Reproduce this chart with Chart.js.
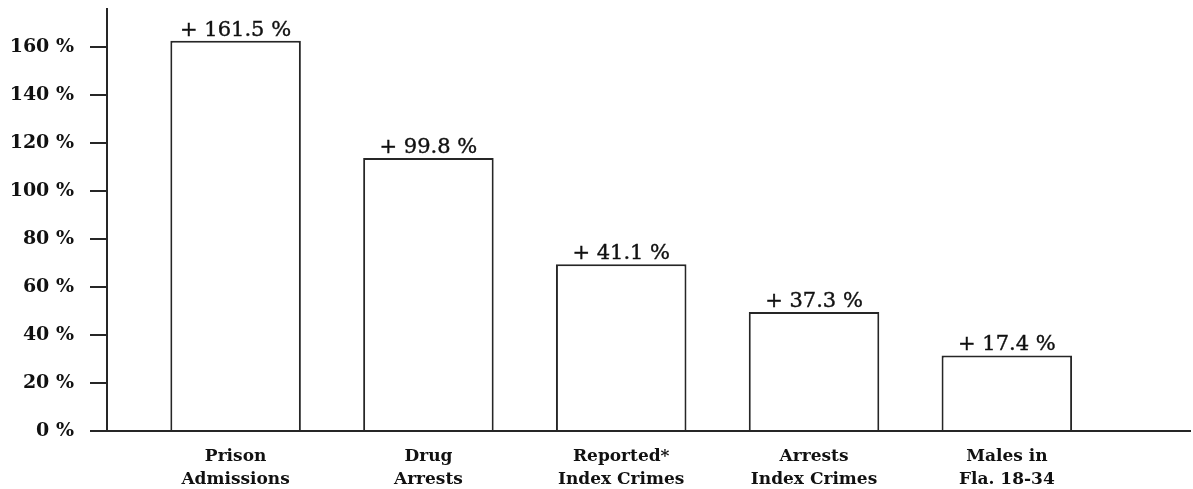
<!DOCTYPE html>
<html>
<head>
<meta charset="utf-8">
<script src="https://cdn.jsdelivr.net/npm/chart.js@4/dist/chart.umd.min.js"></script>
<style>
    html, body { margin: 0; padding: 0; background: #fff; }
    #wrap { width: 1193px; height: 489px; position: relative; }
</style>
</head>
<body>
<div id="wrap"><canvas id="chart"></canvas></div>
<script>
(function () {
    'use strict';

    // categories (two-line labels under the bars)
    var categories = [
        ['Prison', 'Admissions'],
        ['Drug', 'Arrests'],
        ['Reported*', 'Index Crimes'],
        ['Arrests', 'Index Crimes'],
        ['Males in', 'Fla. 18-34']
    ];
    // bar heights as drawn in the picture (percent)
    var barValues = [162.8, 113.9, 69.5, 49.6, 31.5];
    // printed labels above each bar
    var valueLabels = ['+ 161.5 %', '+ 99.8 %', '+ 41.1 %', '+ 37.3 %', '+ 17.4 %'];
    // y tick labels
    var yTicks = [0, 20, 40, 60, 80, 100, 120, 140, 160];

    var ink = '#111111';
    var serif = "'DejaVu Serif', 'Liberation Serif', serif";

    var positions = categories.map(function (c, i) { return i; });

    var barLabels = {
        id: 'barLabels',
        afterDatasetsDraw: function (chart) {
            var ctx = chart.ctx;
            var meta = chart.getDatasetMeta(0);
            ctx.save();
            ctx.fillStyle = ink;
            ctx.strokeStyle = ink;
            ctx.lineWidth = 0.4;
            ctx.font = '21px ' + serif;
            ctx.textAlign = 'center';
            ctx.textBaseline = 'alphabetic';
            meta.data.forEach(function (bar, i) {
                ctx.fillText(valueLabels[i], bar.x, bar.y - 5);
                ctx.strokeText(valueLabels[i], bar.x, bar.y - 5);
            });
            ctx.restore();
        }
    };

    new Chart(document.getElementById('chart'), {
        type: 'bar',
        data: {
            labels: positions,
            datasets: [{
                data: barValues,
                backgroundColor: '#ffffff',
                borderColor: '#262626',
                borderWidth: 2,
                borderSkipped: 'bottom',
                categoryPercentage: 1,
                barPercentage: 0.677
            }]
        },
        options: {
            responsive: true,
            maintainAspectRatio: false,
            animation: false,
            layout: { padding: { top: 9, left: 8, right: 3, bottom: 0 } },
            plugins: { legend: { display: false }, tooltip: { enabled: false } },
            scales: {
                x: {
                    type: 'linear',
                    offset: false,
                    min: -0.667,
                    max: 4.95,
                    afterFit: function (axis) {
                        axis.height = 58;
                        axis.paddingLeft = 0;
                        axis.paddingRight = 0;
                    },
                    grid: { display: true, offset: false, drawOnChartArea: false, drawTicks: false },
                    border: { display: true, color: '#262626', width: 2 },
                    ticks: {
                        stepSize: 1,
                        includeBounds: false,
                        autoSkip: false,
                        maxRotation: 0,
                        padding: 14,
                        color: ink,
                        font: { family: serif, size: 17, weight: 'bold', lineHeight: 1.35 },
                        callback: function (v) {
                            return categories[v] || '';
                        }
                    }
                },
                y: {
                    min: 0,
                    max: 176,
                    afterBuildTicks: function (axis) {
                        axis.ticks = yTicks.map(function (v) { return { value: v }; });
                    },
                    afterFit: function (axis) {
                        axis.width = 99;
                        axis.paddingTop = 0;
                        axis.paddingBottom = 0;
                    },
                    grid: { display: true, drawOnChartArea: false, drawTicks: true, tickLength: 17, color: '#262626', lineWidth: 2 },
                    border: { display: true, color: '#262626', width: 2 },
                    ticks: {
                        padding: 16,
                        color: ink,
                        font: { family: serif, size: 19, weight: 'bold' },
                        callback: function (v) { return v + ' %'; }
                    }
                }
            }
        },
        plugins: [barLabels]
    });
})();
</script>
</body>
</html>
